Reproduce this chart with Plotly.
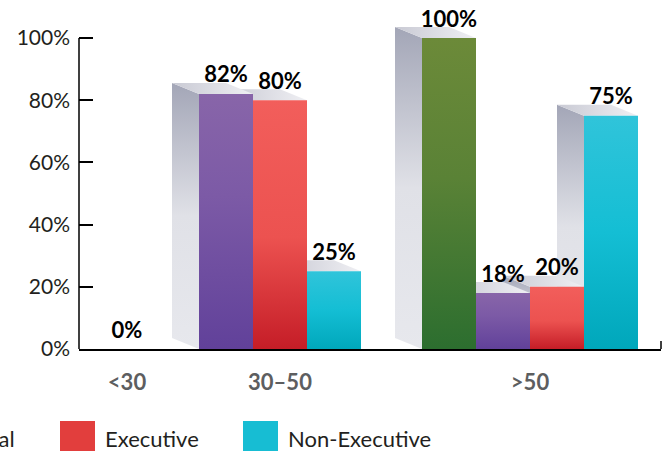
import plotly.graph_objects as go

# ---- data -------------------------------------------------------------
categories = ["<30", "30–50", ">50"]
series_names = ["Board", "Total", "Executive", "Non-Executive"]
board = [0, None, 100]
total = [None, 82, 18]
executive = [None, 80, 20]
non_executive = [None, 25, 75]
y_ticks = [0, 20, 40, 60, 80, 100]
y_tick_labels = ["0%", "20%", "40%", "60%", "80%", "100%"]

# ---- styling ----------------------------------------------------------
FONT = "Lato"
front_scales = [
    [[0, "#2c6e2f"], [0.55, "#5a8236"], [1, "#6c8a39"]],
    [[0, "#61419a"], [0.6, "#7c5aa6"], [1, "#8865a9"]],
    [[0, "#c51d27"], [0.45, "#ec5250"], [1, "#f25e5b"]],
    [[0, "#00a7bb"], [0.5, "#14bed4"], [1, "#30c4da"]],
]
legend_colors = ["#5f8436", "#7a58a6", "#e23e3d", "#17bdd3"]
side_scale = [[0, "#e7e8ed"], [0.5, "#e0e1e7"], [1, "#a3a6b7"]]
top_scale = [[0, "#c9cad4"], [1, "#efeff3"]]

W, H = 670, 455
M_L, M_R, M_T, M_B = 79, 9, 5, 106
PLOT_W = W - M_L - M_R          # x axis runs in pixel-sized units
PX_PER_Y = 3.11                 # pixels per percentage point
Y_TOP = (H - M_T - M_B) / PX_PER_Y
BAR_W = 54
DEPTH_X = 27
DEPTH_Y = 11 / PX_PER_Y
group_centers = [48, 201, 451]

all_series = [board, total, executive, non_executive]

# lay out the bars of each age group side by side around the group centre
bars = []
for c, cx in enumerate(group_centers):
    present = [(s, vals[c]) for s, vals in enumerate(all_series) if vals[c] is not None]
    n = len(present)
    for i, (s, v) in enumerate(present):
        left = cx - n * BAR_W / 2 + i * BAR_W
        bars.append(dict(s=s, v=v, left=left))

fig = go.Figure()


def face(xs, ys, grad_type, scale):
    fig.add_trace(go.Scatter(
        x=xs + [xs[0]], y=ys + [ys[0]], mode="lines", fill="toself",
        line=dict(width=0), fillgradient=dict(type=grad_type, colorscale=scale),
        hoverinfo="skip", showlegend=False))


# side and top faces, painted from the back (right) towards the front (left)
for b in sorted(bars, key=lambda d: -d["left"]):
    if b["v"] <= 0:
        continue
    L, R, v = b["left"], b["left"] + BAR_W, b["v"]
    face([L, L, L - DEPTH_X, L - DEPTH_X], [0, v, v + DEPTH_Y, DEPTH_Y], "vertical", side_scale)
    face([L, R, R - DEPTH_X, L - DEPTH_X], [v, v, v + DEPTH_Y, v + DEPTH_Y], "horizontal", top_scale)

# front faces
for b in bars:
    if b["v"] <= 0:
        continue
    L, R, v = b["left"], b["left"] + BAR_W, b["v"]
    face([L, R, R, L], [0, 0, v, v], "vertical", front_scales[b["s"]])

# value labels
fig.add_trace(go.Scatter(
    x=[b["left"] + BAR_W / 2 for b in bars],
    y=[b["v"] + 17 / PX_PER_Y for b in bars],
    text=[f"{b['v']}%" for b in bars],
    mode="text", textposition="middle center",
    textfont=dict(family=FONT, size=22, color="#000000", weight="bold"),
    cliponaxis=False, hoverinfo="skip", showlegend=False))

shapes = [
    # vertical axis line up to 100%
    dict(type="line", xref="paper", yref="y", x0=0, x1=0, y0=0, y1=100,
         line=dict(color="#000000", width=1.5)),
    # closing tick at the end of the category axis
    dict(type="line", xref="paper", yref="y", x0=1, x1=1, y0=0, y1=8 / PX_PER_Y,
         line=dict(color="#000000", width=1.5)),
]
annotations = []


def px_x(px):
    return (px - M_L) / PLOT_W


def px_y(py):
    return (H - M_B - py) / (H - M_T - M_B)


# legend row (swatch, label); the row starts left of the page edge,
# so only the tail of the "Total" label remains on the page
legend_items = [(1, -95), (2, 60), (3, 243)]
for s, sx in legend_items:
    shapes.append(dict(type="rect", xref="paper", yref="paper",
                       x0=px_x(sx), x1=px_x(sx + 35), y0=px_y(451), y1=px_y(421),
                       line=dict(width=0), fillcolor=legend_colors[s]))
    annotations.append(dict(xref="paper", yref="paper", x=px_x(sx + 43), y=px_y(438),
                            text=series_names[s], showarrow=False,
                            xanchor="left", yanchor="middle",
                            font=dict(family=FONT, size=22, color="#231f20")))
# the purple entry's label ends right at the left page edge
annotations[0].update(x=px_x(17), xanchor="right")

fig.update_layout(
    width=W, height=H,
    margin=dict(l=M_L, r=M_R, t=M_T, b=M_B, autoexpand=False),
    paper_bgcolor="#ffffff", plot_bgcolor="#ffffff",
    showlegend=False,
    shapes=shapes, annotations=annotations,
    xaxis=dict(range=[0, PLOT_W], showgrid=False, zeroline=False,
               showline=True, linecolor="#000000", linewidth=1.5,
               tickvals=group_centers, ticktext=categories, ticks="",
               ticklabelstandoff=13,
               tickfont=dict(family=FONT, size=22, color="#5d5e60", weight="bold")),
    yaxis=dict(range=[0, Y_TOP], showgrid=False, zeroline=False, showline=False,
               tickvals=y_ticks, ticktext=y_tick_labels,
               ticks="inside", ticklen=14, tickwidth=1.5, tickcolor="#000000",
               ticklabelstandoff=8,
               tickfont=dict(family=FONT, size=21, color="#231f20")),
)

fig.write_html("out.html")
